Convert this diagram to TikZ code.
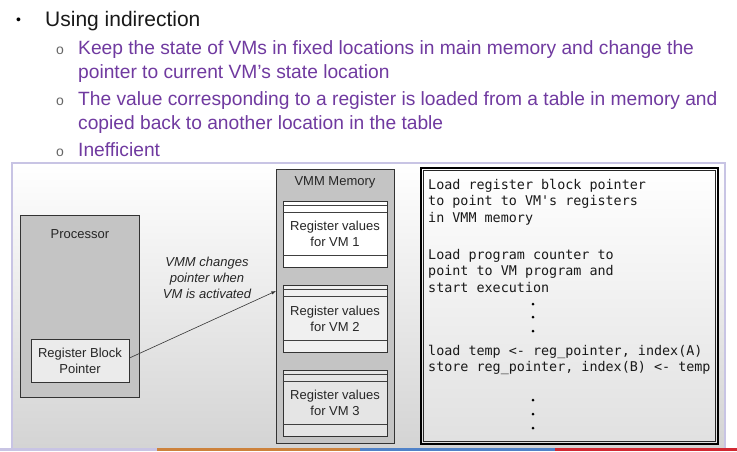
\documentclass[tikz,border=0pt]{standalone}
\usepackage{fontspec}
\setmainfont{Liberation Sans}
\newfontfamily\codefont{DejaVu Sans Mono}
\definecolor{purpletext}{RGB}{112,58,160}
\definecolor{framec}{RGB}{200,196,228}
\definecolor{procgray}{RGB}{196,196,196}
\definecolor{barorange}{RGB}{205,130,60}
\definecolor{barblue}{RGB}{80,130,200}
\definecolor{barred}{RGB}{210,40,50}
\begin{document}
\begin{tikzpicture}[x=1pt,y=-1pt,
  txt/.style={inner sep=0pt,anchor=base west},
  purp/.style={txt,text=purpletext,font=\fontsize{19.2}{22}\selectfont},
  obul/.style={txt,font=\fontsize{14}{16}\selectfont,text=black!60},
  box/.style={draw=black!80,line width=0.9pt,inner sep=0pt},
  dlabel/.style={inner sep=0pt,font=\fontsize{13}{16}\selectfont,text=black!85},
  code/.style={inner sep=0pt,anchor=base west,font=\codefont\fontsize{13.4}{16}\selectfont,text=black!90},
  cdot/.style={circle,fill=black,inner sep=0pt,minimum size=3pt}]
\useasboundingbox (0,0) rectangle (737,451);
\fill[white] (0,0) rectangle (737,451);
% top text
\node[txt,font=\fontsize{14}{16}\selectfont] (b0) at (16,24) {•};
\node[txt,font=\fontsize{21}{24}\selectfont,text=black!90] (t0) at (45,26) {Using indirection};
\node[obul] (b1) at (56,54) {o};
\node[purp] (t1) at (78,54) {Keep the state of VMs in fixed locations in main memory and change the};
\node[purp] (t2) at (78,78) {pointer to current VM’s state location};
\node[obul] (b2) at (56,105) {o};
\node[purp] (t3) at (78,105) {The value corresponding to a register is loaded from a table in memory and};
\node[purp] (t4) at (78,129) {copied back to another location in the table};
\node[obul] (b3) at (56,156) {o};
\node[purp] (t5) at (78,156) {Inefficient};
% frame
\shade[top color=white,bottom color=black!17] (12,163) rectangle (725,449);
\draw[framec,line width=2.5pt] (12,163) rectangle (725,449);
\fill[framec] (0,448) rectangle (157,451);
\fill[barorange] (157,448) rectangle (360,451);
\fill[barblue] (360,448) rectangle (555,451);
\fill[barred] (555,448) rectangle (737,451);
% processor
\node[box,fill=procgray,minimum width=119pt,minimum height=182pt] (proc) at (79.5,306) {};
\node[dlabel] (proclbl) at (80,234) {Processor};
\node[box,fill=black!8,minimum width=98pt,minimum height=43pt,align=center,font=\fontsize{13}{16}\selectfont,text=black!85] (rbp) at (80,360.5) {Register Block\\Pointer};
% VMM memory
\node[box,fill=procgray,minimum width=118pt,minimum height=274pt] (vmm) at (335,306) {};
\node[dlabel] (vmmlbl) at (335,182) {VMM Memory};
\foreach \n/\top/\bot/\fillc in {1/201/267/white,2/285/352/black!6,3/370/436/black!10}{
  \node[box,fill=\fillc,minimum width=104pt,minimum height={\bot-\top},
        align=center,font=\fontsize{13}{16}\selectfont,text=black!85] (vm\n) at (335,{(\top+\bot)/2}) {Register values\\for VM \n};
  \draw[black!75,line width=0.6pt] (vm\n.north west) ++(0,5) -- ++(104,0);
  \draw[black!75,line width=0.6pt] (vm\n.north west) ++(0,11.5) -- ++(104,0);
  \draw[black!75,line width=0.6pt] (vm\n.south west) ++(0,-12.5) -- ++(104,0);
}
% arrow
\coordinate (aend) at (276,291);
\draw[-latex,black!80,line width=0.6pt] ([yshift=2.5pt]rbp.east) -- (aend);
\node[dlabel,font=\itshape\fontsize{13}{16}\selectfont,align=center] (albl) at (207,278) {VMM changes\\pointer when\\VM is activated};
% code box
\shade[top color=white,bottom color=black!12] (421,168) rectangle (718,444);
\node[draw=black,line width=2pt,minimum width=297pt,minimum height=276pt,inner sep=0pt] (codebox) at (569.5,306) {};
\draw[black!85,line width=0.7pt] (423.6,170.6) rectangle (715.4,441.4);
\node[code] (c1) at (428,189) {Load register block pointer};
\node[code] (c2) at (428,205.5) {to point to VM's registers};
\node[code] (c3) at (428,222) {in VMM memory};
\node[code] (c4) at (428,259.5) {Load program counter to};
\node[code] (c5) at (428,275.5) {point to VM program and};
\node[code] (c6) at (428,292) {start execution};
\node[code] (c7) at (428,355.5) {load temp <- reg\_pointer, index(A)};
\node[code] (c8) at (428,371.5) {store reg\_pointer, index(B) <- temp};
\node[cdot] (d1) at (533,304) {};
\node[cdot] (d2) at (533,317) {};
\node[cdot] (d3) at (533,331) {};
\node[cdot] (d4) at (533,400) {};
\node[cdot] (d5) at (533,414) {};
\node[cdot] (d6) at (533,428) {};
\end{tikzpicture}
\end{document}
